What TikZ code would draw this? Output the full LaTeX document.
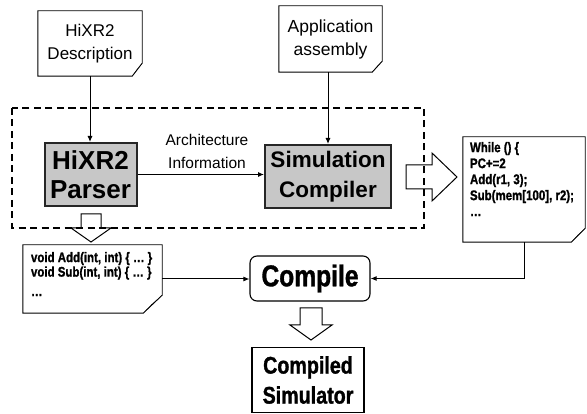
\documentclass[tikz,border=0pt]{standalone}
\usepackage{fontspec}
\setmainfont{Liberation Sans}
\newfontfamily\condb[FakeStretch=0.82,FakeBold=1.2]{Liberation Sans Bold}
\usetikzlibrary{arrows.meta,calc}
\tikzset{
  docline/.style={draw=black,line width=0.9pt},
  docnode/.style={inner sep=0pt,align=center},
  procbox/.style={draw=black!85,line width=2pt,fill=black!22,inner sep=0pt,align=center,
    font=\fontsize{26}{29}\selectfont\bfseries},
  plainbox/.style={draw=black,line width=1.1pt,inner sep=0pt,align=center},
  conn/.style={line width=1pt,-{Latex[length=6pt,width=5pt]}},
  blockarrow/.style={draw=black,line width=1pt,fill=white,line join=miter},
  dashbox/.style={draw=black,line width=1.3pt,dash pattern=on 7pt off 4.5pt},
  codetext/.style={inner sep=0pt,anchor=north west,align=left},
}
\newcommand{\docoutline}[3]{%
  \draw[docline] (#1.north west) -- (#1.north east) -- ([yshift=#3pt]#1.south east)
     -- ([xshift=-#2pt]#1.south east) -- (#1.south west) -- cycle;
  \fill[black] ([xshift=-#2pt]#1.south east) -- ([xshift={-0.55*#2pt},yshift={0.5*#3pt}]#1.south east)
     -- ([yshift=#3pt]#1.south east) -- cycle;
}
\begin{document}
\begin{tikzpicture}[x=1pt,y=-1pt]
\useasboundingbox (0,0) rectangle (587,414);

% document nodes
\node[docnode,minimum width=104pt,minimum height=65pt,font=\fontsize{17}{23}\selectfont] (desc) at (90,43.5) {HiXR2\\Description};
\node[docnode,minimum width=103pt,minimum height=66pt,font=\fontsize{17.5}{23}\selectfont] (app) at (330.5,39) {Application\\assembly};
\node[docnode,minimum width=122pt,minimum height=105pt] (rdoc) at (524,189.5) {};
\node[docnode,minimum width=139pt,minimum height=68pt] (ldoc) at (92.5,279) {};
\docoutline{desc}{10}{13}
\docoutline{app}{10}{11}
\docoutline{rdoc}{14}{14}
\docoutline{ldoc}{19}{18}

\node[codetext,font=\condb\fontsize{14}{16}\selectfont] (rcode) at ($(rdoc.north west)+(7,5)$)
  {While () \{\\PC+=2\\Add(r1, 3);\\Sub(mem[100], r2);\\…};
\node[codetext,font=\condb\fontsize{14}{14.5}\selectfont] (lcode) at ($(ldoc.north west)+(8,7)$)
  {void Add(int, int) \{ … \}\\void Sub(int, int) \{ … \}\\[5pt]…};

% process boxes
\node[procbox,minimum width=92pt,minimum height=63pt] (parser) at (90.5,174.5) {HiXR2\\Parser};
\node[procbox,minimum width=126pt,minimum height=63pt,font=\fontsize{22.5}{30}\selectfont\bfseries] (simc) at (328,176.5) {Simulation\\Compiler};
\node[plainbox,rounded corners=7pt,minimum width=120pt,minimum height=45pt,font=\condb\fontsize{30}{34}\selectfont] (compile) at (310,278.5) {Compile};
\node[plainbox,minimum width=112pt,minimum height=65pt,font=\condb\fontsize{24}{30}\selectfont] (compiled) at (308,380) {Compiled\\Simulator};

\node[inner sep=0pt,align=center,font=\fontsize{15.5}{23}\selectfont] (archlbl) at (207,151.5) {Architecture\\Information};

% connectors
\draw[conn] (desc.south) -- (desc.south |- parser.north);
\draw[conn] (simc.north |- app.south) -- (simc.north);
\draw[conn] (parser.east) -- (parser.east -| simc.west);
\draw[conn] (ldoc.east) -- (ldoc.east -| compile.west);
\draw[conn] (rdoc.south) |- (compile.east);

% block arrows
\draw[blockarrow] (406,165) -- (432,165) -- (432,153) -- (457,177) -- (432,201) -- (432,189) -- (406,189) -- cycle;
\draw[blockarrow] (81,214) -- (101,214) -- (101,228) -- (111,228) -- (91,242) -- (71,228) -- (81,228) -- cycle;
\draw[blockarrow] (300,308) -- (322,308) -- (322,325) -- (332,325) -- (311,340) -- (290,325) -- (300,325) -- cycle;

% dashed frame
\draw[dashbox] (12,108) rectangle (424,228);
\end{tikzpicture}
\end{document}
